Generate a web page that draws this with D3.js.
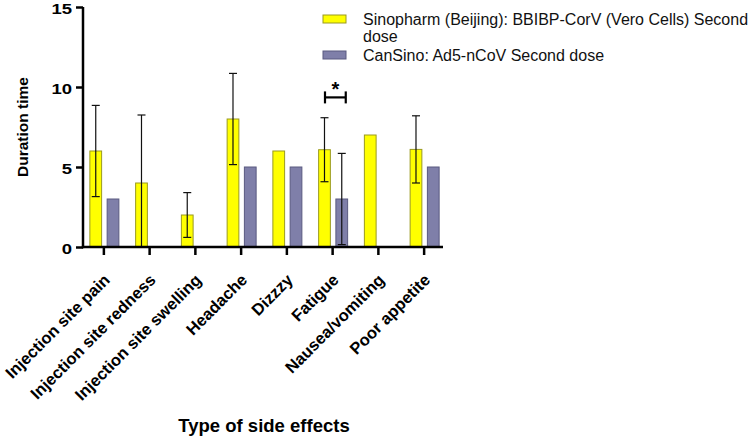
<!DOCTYPE html>
<html><head><meta charset="utf-8">
<script src="https://cdn.jsdelivr.net/npm/d3@7"></script>
<style>body{margin:0;background:#fff}svg{display:block;font-family:"Liberation Sans",Arial,sans-serif}</style>
</head><body><svg id="c" width="748" height="438"></svg>
<script>
const categories = ["Injection site pain","Injection site redness","Injection site swelling","Headache","Dizzzy","Fatigue","Nausea/vomiting","Poor appetite"];
const seriesNames = ["Sinopharm (Beijing): BBIBP-CorV (Vero Cells) Second dose","CanSino: Ad5-nCoV Second dose"];
const sinopharm = [6, 4, 2, 8, 6, 6.08, 7, 6.1];
const sinopharmErr = [2.85, 4.25, 1.4, 2.85, null, 2.0, null, 2.1];
const cansino = [3, 0, 0, 5, 5, 3, 0, 5];
const cansinoErr = [null, null, null, null, null, 2.85, null, null];
const yTicks = [0, 5, 10, 15];
const colors = ["#ffff00", "#7f7fa9"];
const strokes = ["#9a9a20", "#5a5a80"];

const svg = d3.select("#c");
const y = d3.scaleLinear().domain([0, 15]).range([247, 7]);
const x0 = d3.scaleBand().domain(categories).range([81, 447]).padding(0);
const x1 = d3.scaleBand().domain([0, 1]).range([-14, 15]).paddingInner(0.32);

const data = categories.map((c, i) => ({
  cat: c,
  vals: [
    {s: 0, v: sinopharm[i], e: sinopharmErr[i]},
    {s: 1, v: cansino[i], e: cansinoErr[i]}
  ]
}));

const g = svg.append("g");
const groups = g.selectAll("g.cat").data(data).join("g")
  .attr("transform", d => `translate(${x0(d.cat) + x0.bandwidth()/2},0)`);

groups.selectAll("rect").data(d => d.vals.filter(v => v.v > 0)).join("rect")
  .attr("x", d => x1(d.s))
  .attr("width", x1.bandwidth())
  .attr("y", d => y(d.v))
  .attr("height", d => y(0) - y(d.v))
  .attr("fill", d => colors[d.s])
  .attr("stroke", d => strokes[d.s])
  .attr("stroke-width", 1);

// error bars
const eb = groups.selectAll("g.err").data(d => d.vals.filter(v => v.e != null)).join("g")
  .attr("transform", d => `translate(${x1(d.s) + x1.bandwidth()/2},0)`);
eb.append("line").attr("x1", 0).attr("x2", 0)
  .attr("y1", d => y(d.v + d.e)).attr("y2", d => y(Math.max(0, d.v - d.e)))
  .attr("stroke", "#111").attr("stroke-width", 1.2);
eb.append("line").attr("x1", -4).attr("x2", 4)
  .attr("y1", d => y(d.v + d.e)).attr("y2", d => y(d.v + d.e))
  .attr("stroke", "#111").attr("stroke-width", 1.2);
eb.filter(d => d.v - d.e > 0).append("line").attr("x1", -4).attr("x2", 4)
  .attr("y1", d => y(d.v - d.e)).attr("y2", d => y(d.v - d.e))
  .attr("stroke", "#111").attr("stroke-width", 1.2);

// axes
const yAxis = svg.append("g").attr("transform", "translate(83,0)")
  .call(d3.axisLeft(y).tickValues(yTicks).tickSize(7).tickSizeOuter(0));
yAxis.select(".domain").remove();
yAxis.selectAll(".tick line").attr("stroke", "#000").attr("stroke-width", 2.5);
yAxis.selectAll(".tick text").attr("font-size", 15.5).attr("font-weight", "bold").attr("fill", "#000")
  .attr("x", -11).attr("dy", "0.44em")
  .attr("textLength", d => String(d).length * 10.3).attr("lengthAdjust", "spacingAndGlyphs");

const xAxis = svg.append("g").attr("transform", "translate(0,247)")
  .call(d3.axisBottom(x0).tickSize(8).tickSizeOuter(0));
xAxis.select(".domain").remove();
xAxis.selectAll(".tick line").attr("stroke", "#000").attr("stroke-width", 2.5);
xAxis.selectAll(".tick text")
  .attr("font-size", 16.5).attr("font-weight", "bold").attr("fill", "#000")
  .attr("text-anchor", "end")
  .attr("transform", "translate(7,34) rotate(-45)")
  .attr("x", 0).attr("y", 0).attr("dy", 0);

svg.append("line").attr("x1", 83).attr("x2", 83).attr("y1", 7).attr("y2", 248.2)
  .attr("stroke", "#000").attr("stroke-width", 2.5);
svg.append("line").attr("x1", 81.8).attr("x2", 443).attr("y1", 247).attr("y2", 247)
  .attr("stroke", "#000").attr("stroke-width", 2.5);

// axis titles
svg.append("text").attr("transform", "translate(28,127) rotate(-90)")
  .attr("text-anchor", "middle").attr("font-size", 15.5).attr("font-weight", "bold").text("Duration time");
svg.append("text").attr("x", 264).attr("y", 432)
  .attr("text-anchor", "middle").attr("font-size", 18.5).attr("font-weight", "bold").text("Type of side effects");

// significance bracket on Fatigue
const fc = x0("Fatigue") + x0.bandwidth()/2;
const bx1 = fc + x1(0) + x1.bandwidth()/2 + 0.5, bx2 = fc + x1(1) + x1.bandwidth()/2 + 4;
const by = y(9.35);
const br = svg.append("g").attr("stroke", "#000").attr("stroke-width", 2.2);
br.append("line").attr("x1", bx1).attr("x2", bx2).attr("y1", by).attr("y2", by);
br.append("line").attr("x1", bx1).attr("x2", bx1).attr("y1", by - 6).attr("y2", by + 6);
br.append("line").attr("x1", bx2).attr("x2", bx2).attr("y1", by - 6).attr("y2", by + 6);
svg.append("text").attr("x", (bx1 + bx2)/2).attr("y", by - 1).attr("text-anchor", "middle")
  .attr("font-size", 20).attr("font-weight", "bold").text("*");

// legend
const lg = svg.append("g");
lg.append("rect").attr("x", 323).attr("y", 15).attr("width", 23).attr("height", 8)
  .attr("fill", colors[0]).attr("stroke", strokes[0]);
lg.append("rect").attr("x", 323).attr("y", 51).attr("width", 23).attr("height", 8)
  .attr("fill", colors[1]).attr("stroke", strokes[1]);
const lt = lg.append("text").attr("font-size", 16).attr("fill", "#111");
lt.append("tspan").attr("x", 363).attr("y", 25).text("Sinopharm (Beijing): BBIBP-CorV (Vero Cells) Second");
lt.append("tspan").attr("x", 363).attr("y", 42).text("dose");
lg.append("text").attr("font-size", 16).attr("fill", "#111").attr("x", 363).attr("y", 61).text(seriesNames[1]);
</script></body></html>
